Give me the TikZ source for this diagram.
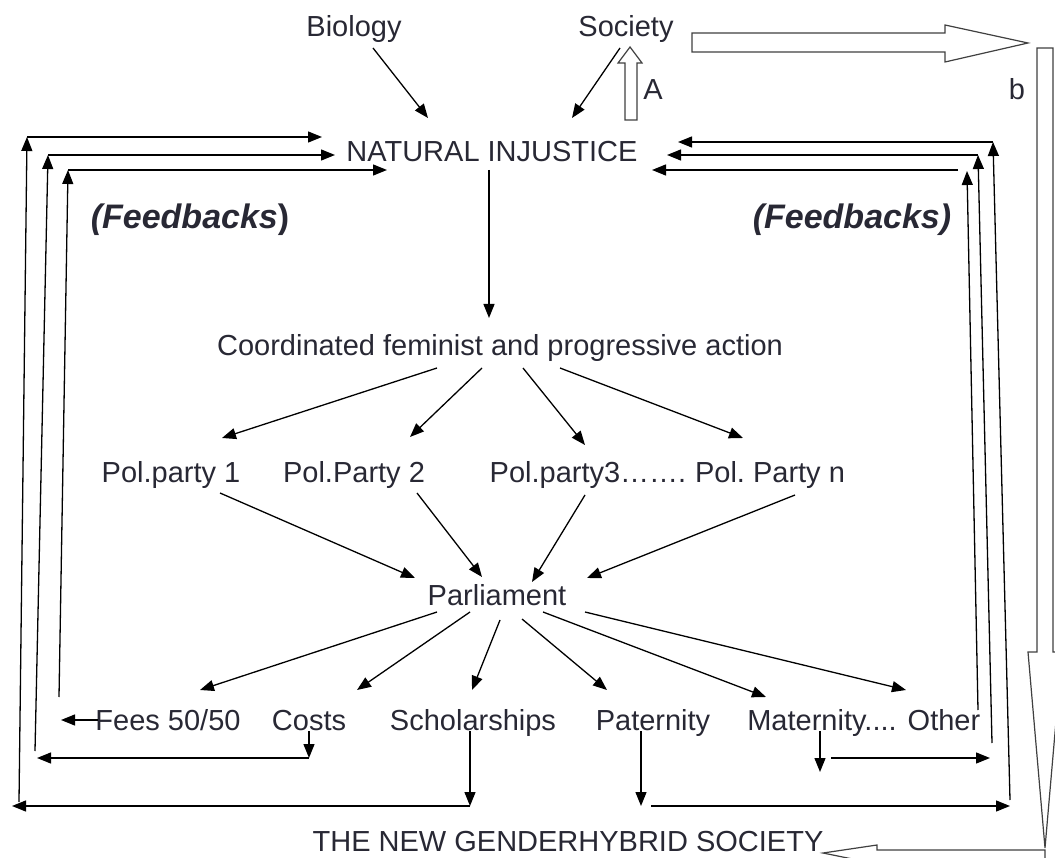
\documentclass[tikz,border=0pt]{standalone}
\usepackage{fontspec}
\setmainfont{Liberation Sans}
\usetikzlibrary{arrows.meta,calc}
\definecolor{inkgray}{RGB}{40,40,52}
\frenchspacing

\begin{document}
\begin{tikzpicture}[x=1pt,y=-1pt,
    lbl/.style={inner sep=0pt, anchor=base, text=inkgray, font=\fontsize{29}{34}\selectfont},
    fbk/.style={inner sep=0pt, anchor=base, text=inkgray, font=\fontsize{34}{40}\selectfont\bfseries},
    arr/.style={line width=1.3pt, -{Triangle[length=14pt,width=11pt]}},
    hollow/.style={draw=black!75, line width=1.2pt, fill=white}]
    \useasboundingbox (0,0) rectangle (1055,858);
    \clip (0,0) rectangle (1055,858);

    % Causes
    \node[lbl] (bio) at (354,37) {Biology};
    \node[lbl] (soc) at (626,37) {Society};
    \node[lbl] (ni) at (492,162) {NATURAL INJUSTICE};
    \node[lbl] (alab) at (653,100) {A};
    \node[lbl] (blab) at (1017,100) {b};

    % Feedback captions
    \node[fbk] (fbl) at (190,229) {\itshape(Feedbacks\upshape)};
    \node[fbk] (fbr) at (852,229) {\itshape(Feedbacks)};

    % Action, parties, parliament
    \node[lbl] (coord) at (500,356) {Coordinated feminist and progressive action};
    \node[lbl] (p1) at (171,482) {Pol.party 1};
    \node[lbl] (p2) at (354,482) {Pol.Party 2};
    \node[lbl] (p3) at (588,482) {Pol.party3…….};
    \node[lbl] (pn) at (770,482) {Pol. Party n};
    \node[lbl] (par) at (497,605) {Parliament};

    % Measures
    \node[lbl] (fees) at (168,730) {Fees 50/50};
    \node[lbl] (costs) at (309,730) {Costs};
    \node[lbl] (schol) at (473,730) {Scholarships};
    \node[lbl] (pat) at (653,730) {Paternity};
    \node[lbl] (mat) at (822,730) {Maternity....};
    \node[lbl] (oth) at (944,730) {Other};
    \node[lbl] (newsoc) at (568,851) {THE NEW GENDERHYBRID SOCIETY};

    % Into natural injustice
    \draw[arr] ($(bio.base)+(19,11)$) -- ($(ni.base)+(-64,-44)$);
    \draw[arr] ($(soc.base)+(-6,11)$) -- ($(ni.base)+(80,-44)$);
    \draw[arr] ($(ni.base)+(-3,8)$) -- ($(coord.base)+(-11,-38)$);

    % Action to parties
    \draw[arr] ($(coord.base)+(-63,12)$) -- ($(p1.base)+(51,-44)$);
    \draw[arr] ($(coord.base)+(-18,12)$) -- ($(p2.base)+(56,-45)$);
    \draw[arr] ($(coord.base)+(23,12)$) -- ($(p3.base)+(-3,-37)$);
    \draw[arr] ($(coord.base)+(60,12)$) -- ($(pn.base)+(-27,-44)$);

    % Parties to parliament
    \draw[arr] ($(p1.base)+(49,11)$) -- ($(par.base)+(-82,-27)$);
    \draw[arr] ($(p2.base)+(63,11)$) -- ($(par.base)+(-15,-28)$);
    \draw[arr] ($(p3.base)+(-3,13)$) -- ($(par.base)+(35,-23)$);
    \draw[arr] ($(pn.base)+(25,13)$) -- ($(par.base)+(90,-27)$);

    % Parliament to measures
    \draw[arr] ($(par.base)+(-60,7)$) -- ($(fees.base)+(32,-40)$);
    \draw[arr] ($(par.base)+(-27,7)$) -- ($(costs.base)+(48,-40)$);
    \draw[arr] ($(par.base)+(3,15)$) -- ($(schol.base)+(-1,-40)$);
    \draw[arr] ($(par.base)+(25,14)$) -- ($(pat.base)+(-46,-40)$);
    \draw[arr] ($(par.base)+(46,7)$) -- ($(mat.base)+(-56,-33)$);
    \draw[arr] ($(par.base)+(88,7)$) -- ($(oth.base)+(-38,-40)$);

    % Feedbacks (left)
    \coordinate (fl) at (61,720);
    \coordinate (cc) at (309,758);  \coordinate (ccl) at (37,758);
    \coordinate (sc) at (470,806);  \coordinate (scl) at (12,806);
    \coordinate (lb1) at (19,802);  \coordinate (lc1) at (27,137);
    \coordinate (lb2) at (35,751);  \coordinate (lc2) at (48,155);
    \coordinate (lb3) at (59,697);  \coordinate (lc3) at (68,170);
    \draw[arr] ($(fees.base)+(-70,-10)$) -- (fl);
    \draw[arr] ($(costs.base)+(0,1)$) -- (cc);
    \draw[arr] (cc) -- (ccl);
    \draw[arr] ($(schol.base)+(-3,1)$) -- (sc);
    \draw[arr] (sc) -- (scl);
    \draw[arr] (lb1) -- (lc1);
    \draw[arr] (lb2) -- (lc2);
    \draw[arr] (lb3) -- (lc3);
    \draw[arr] (lc1) -- ($(ni.base)+(-170,-25)$);
    \draw[arr] (lc2) -- ($(ni.base)+(-157,-7)$);
    \draw[arr] (lc3) -- ($(ni.base)+(-105,8)$);

    % Feedbacks (right)
    \coordinate (pc) at (641,806);  \coordinate (pch) at (651,806);  \coordinate (pcr) at (1010,806);
    \coordinate (mc) at (820,772);  \coordinate (mch) at (831,758);  \coordinate (mcr) at (990,758);
    \coordinate (rb1) at (1010,800); \coordinate (rc1) at (993,142);
    \coordinate (rb2) at (992,743);  \coordinate (rc2) at (978,155);
    \coordinate (rc3) at (967,171);  \coordinate (rh3) at (958,170);
    \draw[arr] ($(pat.base)+(-12,1)$) -- (pc);
    \draw[arr] (pch) -- (pcr);
    \draw[arr] ($(mat.base)+(-2,1)$) -- (mc);
    \draw[arr] (mch) -- (mcr);
    \draw[arr] (rb1) -- (rc1);
    \draw[arr] (rb2) -- (rc2);
    \draw[arr] ($(oth.base)+(34,-20)$) -- (rc3);
    \draw[arr] (rc1) -- ($(ni.base)+(186,-20)$);
    \draw[arr] (rc2) -- ($(ni.base)+(175,-7)$);
    \draw[arr] (rh3) -- ($(ni.base)+(160,8)$);

    % Block arrows (A and the outer loop b)
    \draw[hollow] (625,120) -- (625,63) -- (618,63) -- (630,47) -- (642,63) -- (637,63) -- (637,120) -- cycle;
    \draw[hollow] (692,33) -- (945,33) -- (945,25) -- (1028,43) -- (945,62) -- (945,52) -- (692,52) -- cycle;
    \draw[hollow] (1037,48) -- (1037,652) -- (1028,652) -- (1045,848) -- (1062,652) -- (1053,652) -- (1053,48) -- cycle;
    \draw[hollow] (1045,850) -- (877,850) -- (877,845) -- (823,853) -- (877,864) -- (877,860) -- (1045,860) -- cycle;
\end{tikzpicture}
\end{document}
